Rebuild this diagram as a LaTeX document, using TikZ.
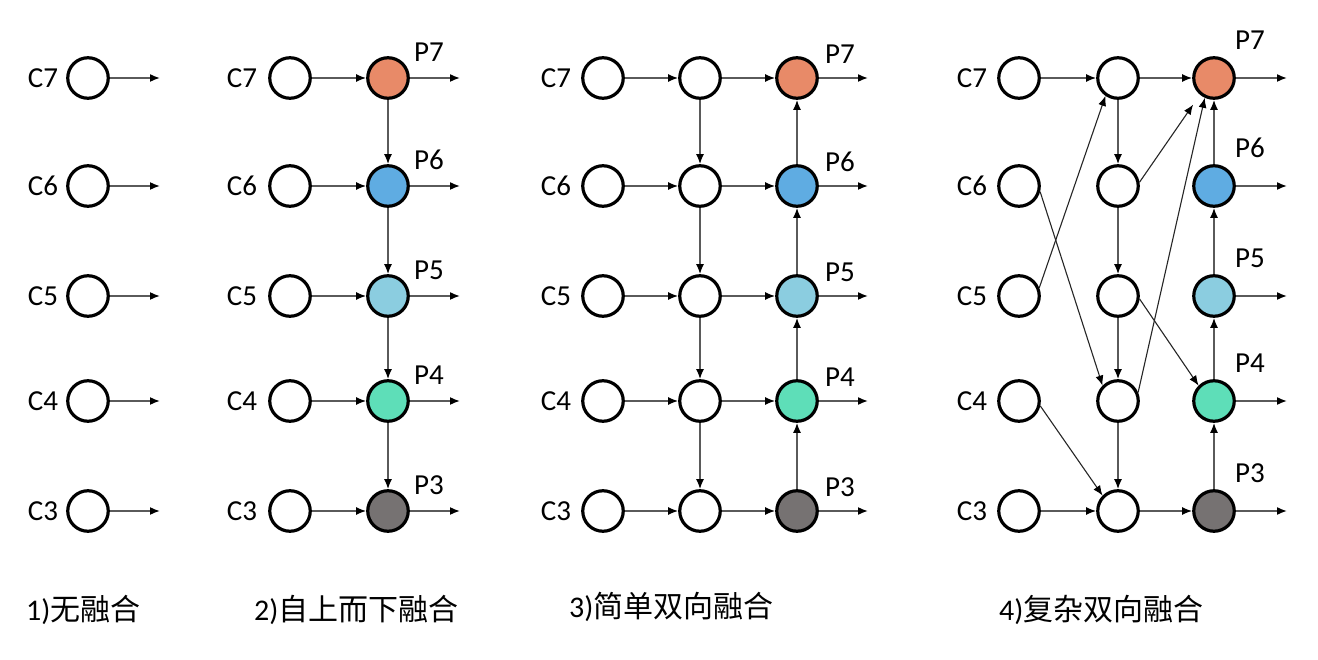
\documentclass[tikz,border=0pt]{standalone}
\usepackage{fontspec}
\setmainfont{Carlito}
\newfontfamily\cjk{Noto Sans CJK SC}
\usetikzlibrary{arrows.meta}
\definecolor{pc7}{HTML}{E88A68}
\definecolor{pc6}{HTML}{5FACE2}
\definecolor{pc5}{HTML}{8BCDE0}
\definecolor{pc4}{HTML}{5EDEB8}
\definecolor{pc3}{HTML}{767272}
\definecolor{lnc}{HTML}{5A5A5A}
\tikzset{
  nd/.style={circle, draw=black, line width=3.2pt, minimum size=40.5pt, inner sep=0pt, fill=white},
  lab/.style={font=\fontsize{29}{34}\selectfont, inner sep=0pt},
  captxt/.style={font=\fontsize{30}{36}\selectfont, inner sep=0pt, anchor=west},
  ar/.style={draw=lnc, line width=1.6pt, -{Latex[length=10pt,width=8pt,color=black]}},
  dg/.style={draw=black!85, line width=1.1pt, -{Latex[length=10pt,width=8pt,color=black]}},
}
\begin{document}
\begin{tikzpicture}[x=1pt,y=-1pt]
\useasboundingbox[fill=white] (0,0) rectangle (1318,660);
% ---------- panel 1
\foreach \i/\y in {7/78,6/186,5/296,4/401,3/511}{
  \node[nd] (a\i) at (88,\y) {};
  \node[lab] (al\i) at (43,\y) {C\i};
  \coordinate (ao\i) at (160,\y);
  \draw[ar] (a\i) -- (ao\i);
}
% ---------- panel 2
\foreach \i/\y in {7/78,6/186,5/296,4/401,3/511}{
  \node[nd] (b\i) at (290,\y) {};
  \node[lab] (bl\i) at (242,\y) {C\i};
  \node[nd, fill=pc\i] (bp\i) at (388,\y) {};
  \node[lab] (bpl\i) at (429,\y-26) {P\i};
  \coordinate (bo\i) at (460,\y);
  \draw[ar] (b\i) -- (bp\i);
  \draw[ar] (bp\i) -- (bo\i);
}
\foreach \i/\j in {7/6,6/5,5/4,4/3}{
  \draw[ar] (bp\i) -- (bp\j);
}
% ---------- panel 3
\foreach \i/\y in {7/78,6/186,5/296,4/401,3/511}{
  \node[nd] (c\i) at (603,\y) {};
  \node[lab] (cl\i) at (556,\y) {C\i};
  \node[nd] (cm\i) at (700,\y) {};
  \node[nd, fill=pc\i] (cp\i) at (797,\y) {};
  \node[lab] (cpl\i) at (840,\y-24) {P\i};
  \coordinate (co\i) at (868,\y);
  \draw[ar] (c\i) -- (cm\i);
  \draw[ar] (cm\i) -- (cp\i);
  \draw[ar] (cp\i) -- (co\i);
}
\foreach \i/\j in {7/6,6/5,5/4,4/3}{
  \draw[ar] (cm\i) -- (cm\j);
  \draw[ar] (cp\j) -- (cp\i);
}
% ---------- panel 4
\foreach \i/\y in {7/78,6/186,5/296,4/401,3/511}{
  \node[nd] (d\i) at (1019,\y) {};
  \node[lab] (dl\i) at (972,\y) {C\i};
  \node[nd] (dm\i) at (1118,\y) {};
  \node[nd, fill=pc\i] (dp\i) at (1214,\y) {};
  \node[lab] (dpl\i) at (1250,\y-38) {P\i};
  \coordinate (do\i) at (1287,\y);
  \draw[ar] (dp\i) -- (do\i);
}
\draw[ar] (d7) -- (dm7);
\draw[ar] (dm7) -- (dp7);
\draw[ar] (d3) -- (dm3);
\draw[ar] (dm3) -- (dp3);
\foreach \i/\j in {7/6,6/5,5/4,4/3}{
  \draw[ar] (dm\i) -- (dm\j);
  \draw[ar] (dp\j) -- (dp\i);
}
\draw[dg] (d5.22) -- (dm7.235);
\draw[dg] (d6.-15) -- (dm4.135);
\draw[dg] (d4.-13) -- (dm3.135);
\draw[dg, shorten >=12pt] (dm6.10) -- (dp7.230);
\draw[dg] (dm4.23) -- (dp7.245);
\draw[dg] (dm5.-8) -- (dp4.135);
% ---------- captions
\node[captxt] (t1) at (26,610) {1)\cjk 无融合};
\node[captxt] (t2) at (254,610) {2)\cjk 自上而下融合};
\node[captxt] (t3) at (569,607) {3)\cjk 简单双向融合};
\node[captxt] (t4) at (999,610) {4)\cjk 复杂双向融合};
\end{tikzpicture}
\end{document}
